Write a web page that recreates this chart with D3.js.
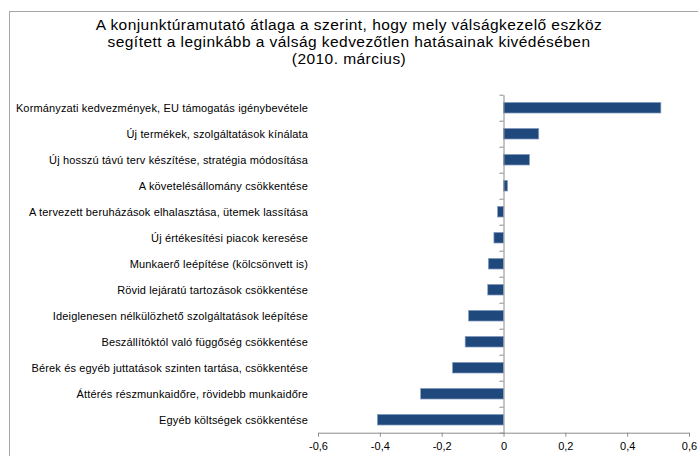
<!DOCTYPE html>
<html>
<head>
	<meta charset="utf-8">
	<title>Válságkezelő eszközök</title>
	<script src="https://d3js.org/d3.v7.min.js"></script>
	<style>
		body { margin: 0; background: #fff; }
		text { font-family: "Liberation Sans", Arial, sans-serif; fill: #000; }
	</style>
</head>
<body>
	<script>

			var titleLines = [
				"A konjunktúramutató átlaga a szerint, hogy mely válságkezelő eszköz",
				"segített a leginkább a válság kedvezőtlen hatásainak kivédésében",
				"(2010. március)"
			];

			var categories = [
				"Kormányzati kedvezmények, EU támogatás igénybevétele",
				"Új termékek, szolgáltatások kínálata",
				"Új hosszú távú terv készítése, stratégia módosítása",
				"A követelésállomány csökkentése",
				"A tervezett beruházások elhalasztása, ütemek lassítása",
				"Új értékesítési piacok keresése",
				"Munkaerő leépítése (kölcsönvett is)",
				"Rövid lejáratú tartozások csökkentése",
				"Ideiglenesen nélkülözhető szolgáltatások leépítése",
				"Beszállítóktól való függőség csökkentése",
				"Bérek és egyéb juttatások szinten tartása, csökkentése",
				"Áttérés részmunkaidőre, rövidebb munkaidőre",
				"Egyéb költségek csökkentése"
			];

			var values = [0.509, 0.114, 0.084, 0.013, -0.019, -0.031, -0.049, -0.051, -0.113, -0.124, -0.165, -0.268, -0.408];

			var xTicks = [-0.6, -0.4, -0.2, 0, 0.2, 0.4, 0.6];

			var width = 698, height = 456;

			var canvas = d3.select("body").append("svg")
							.attr("width", width)
							.attr("height", height);

			// chart frame (runs off the right and bottom edge)
			canvas.append("rect")
				.attr("x", 9.5)
				.attr("y", 11.5)
				.attr("width", 720)
				.attr("height", 480)
				.attr("fill", "none")
				.attr("stroke", "#a6a6a6");

			canvas.selectAll(".title")
				.data(titleLines)
				.enter()
				.append("text")
				.attr("class", "title")
				.attr("x", 349)
				.attr("y", function (d, i) { return 30 + i * 17; })
				.attr("text-anchor", "middle")
				.attr("font-size", "15.5px")
				.attr("letter-spacing", "0.45px")
				.text(function (d) { return d; });

			var x = d3.scaleLinear()
						.domain([-0.6, 0.6])
						.range([318, 689]);

			var y = d3.scaleBand()
						.domain(categories)
						.range([94.7, 432.7])
						.paddingInner(0.59)
						.paddingOuter(0.295);

			var yEdge = d3.scaleLinear()
						.domain([0, categories.length])
						.range([94.7, 432.7]);

			// bars
			canvas.selectAll(".bar")
				.data(values)
				.enter()
				.append("rect")
				.attr("class", "bar")
				.attr("x", function (d) { return x(Math.min(0, d)); })
				.attr("y", function (d, i) { return y(categories[i]); })
				.attr("width", function (d) { return Math.abs(x(d) - x(0)); })
				.attr("height", y.bandwidth())
				.attr("fill", "#1f497d")
				.attr("stroke", "#8aa2c4")
				.attr("stroke-width", 0.7);

			// vertical axis at zero, ticks on category edges
			var yAxis = canvas.append("g")
							.attr("transform", "translate(" + x(0) + ",0)")
							.call(d3.axisLeft(yEdge)
								.tickValues(d3.range(categories.length + 1))
								.tickSize(4)
								.tickSizeOuter(0)
								.tickFormat(""));

			yAxis.selectAll("path, line").attr("stroke", "#8c8c8c");

			// category labels
			canvas.selectAll(".cat")
				.data(categories)
				.enter()
				.append("text")
				.attr("class", "cat")
				.attr("x", 308)
				.attr("y", function (d) { return y(d) + y.bandwidth() / 2 + 4; })
				.attr("text-anchor", "end")
				.attr("font-size", "11px")
				.attr("letter-spacing", "0.15px")
				.text(function (d) { return d; });

			// horizontal axis
			var xAxis = canvas.append("g")
							.attr("transform", "translate(0,432.7)")
							.call(d3.axisBottom(x)
								.tickValues(xTicks)
								.tickSize(4)
								.tickSizeOuter(0)
								.tickPadding(6)
								.tickFormat(function (d) { return d === 0 ? "0" : d.toFixed(1).replace(".", ","); }));

			xAxis.selectAll("path, line").attr("stroke", "#8c8c8c");
			xAxis.selectAll("text")
				.attr("font-size", "11px")
				.attr("font-family", "Liberation Sans, Arial, sans-serif")
				.attr("fill", "#000");

	</script>
</body>
</html>
